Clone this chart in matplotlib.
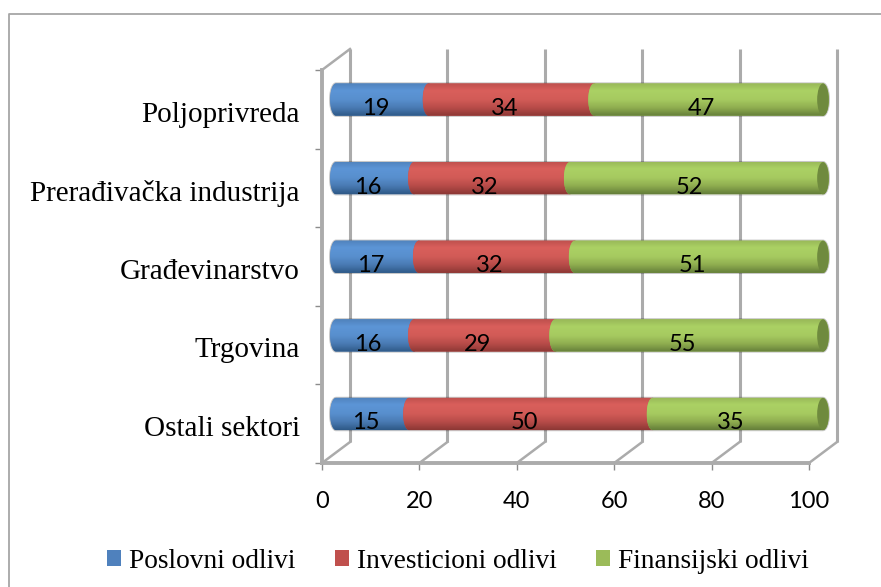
import matplotlib
matplotlib.use('Agg')
import matplotlib.pyplot as plt
import matplotlib.patches as patches
from matplotlib.lines import Line2D
from matplotlib.path import Path
import numpy as np

categories = ['Ostali sektori', 'Trgovina', 'Građevinarstvo', 'Prerađivačka industrija', 'Poljoprivreda']
poslovni = [15, 16, 17, 16, 19]
investicioni = [50, 29, 32, 32, 34]
finansijski = [35, 55, 51, 52, 47]
series_names = ['Poslovni odlivi', 'Investicioni odlivi', 'Finansijski odlivi']
series_colors = ['#4F81BD', '#C0504D', '#9BBB59']
xticks = [0, 20, 40, 60, 80, 100]

# gradient stops top -> bottom
shades = {
    '#4F81BD': ['#5082BC', '#5C95D6', '#588FCE', '#4A7BB4', '#2F5A88'],
    '#C0504D': ['#BE504D', '#D95F5B', '#D25B57', '#B84C49', '#8E3835'],
    '#9BBB59': ['#98B858', '#ABD164', '#A6CA60', '#90AE50', '#66803A'],
}

W, H = 881, 587
DX, DY = 5.75, 0.267   # depth of the 3d box in data units
CAP = 1.2              # half width of the bar end ellipse
BAR_H = 0.41
GRID = '#ABABAB'

fig = plt.figure(figsize=(W / 100, H / 100), dpi=100)
ax = fig.add_axes([322 / W, 1 - 463 / H, 487 / W, 393 / H])
ax.patch.set_alpha(0)


def lerp_img(color):
    rgb = np.array([matplotlib.colors.to_rgb(c) for c in shades[color]])
    t = np.linspace(0, 1, 40)
    stops = np.array([0, 0.22, 0.5, 0.75, 1])
    img = np.stack([np.interp(t, stops, rgb[:, k]) for k in range(3)], axis=1)
    return img[:, None, :]


def cylinder(x0, x1, yc):
    a = np.linspace(-np.pi / 2, np.pi / 2, 30)
    right = np.c_[x1 + CAP * np.cos(a), yc + BAR_H / 2 * np.sin(a)]
    left = np.c_[x0 - CAP * np.cos(a[::-1]), yc + BAR_H / 2 * np.sin(a[::-1])]
    return np.r_[right, left, right[:1]]


# back wall and floor
for v in xticks:
    ax.plot([v + DX, v + DX], [DY, 5 + DY], color=GRID, lw=2.2, clip_on=False, zorder=1, solid_capstyle='butt')
    ax.plot([v, v + DX], [0, DY], color=GRID, lw=1.8, clip_on=False, zorder=1)
ax.plot([0, DX], [5, 5 + DY], color=GRID, lw=1.8, clip_on=False, zorder=1)

# stacked bars
values = [poslovni, investicioni, finansijski]
for i in range(len(categories)):
    yc = i + 0.5 + DY / 2 - 0.01
    total = sum(values[s][i] for s in range(3))
    # soft outline under the whole bar
    ax.add_patch(patches.PathPatch(Path(cylinder(DX / 2, total + DX / 2, yc)), facecolor='none',
                                   edgecolor='#00000038', lw=1.6, clip_on=False, zorder=2))
    left = 0
    for s, color in enumerate(series_colors):
        v = values[s][i]
        x0, x1 = left + DX / 2, left + v + DX / 2
        shape = patches.PathPatch(Path(cylinder(x0, x1, yc)), facecolor=color, edgecolor='none',
                                  clip_on=False, zorder=3 + s * 0.1)
        ax.add_patch(shape)
        im = ax.imshow(lerp_img(color), extent=[x0 - CAP, x1 + CAP, yc - BAR_H / 2, yc + BAR_H / 2],
                       aspect='auto', interpolation='bilinear', zorder=3 + s * 0.1 + 0.01)
        im.set_clip_path(shape)
        im.set_clip_box(fig.bbox)
        left += v
    # end cap
    ax.add_patch(patches.Ellipse((left + DX / 2, yc), 2 * CAP, BAR_H, facecolor='#6F8A3E',
                                 edgecolor='none', clip_on=False, zorder=3.5))
    # data labels
    left = 0
    for s in range(3):
        v = values[s][i]
        ax.text(left + v / 2 + 1.5, i + 0.51, str(v), ha='center', va='center', fontsize=17,
                family='Lato', color='black', zorder=5)
        left += v

ax.set_xlim(0, 100)
ax.set_ylim(0, 5)
ax.set_xticks(xticks)
ax.set_xticklabels([str(v) for v in xticks], family='Lato', fontsize=17)
ax.set_yticks(np.arange(5) + 0.47)
ax.set_yticklabels(categories, family='Liberation Serif', fontsize=21)
ax.set_yticks(np.arange(6), minor=True)
ax.tick_params(axis='y', which='major', length=0, pad=16)
ax.tick_params(axis='y', which='minor', length=5, width=1, color='#8C8C8C')
ax.tick_params(axis='x', length=5, width=1, color='#8C8C8C', pad=15)
for side in ['top', 'right']:
    ax.spines[side].set_visible(False)
for side in ['left', 'bottom']:
    ax.spines[side].set_color(GRID)
    ax.spines[side].set_linewidth(2.8)

# outer chart border, only left and top are in the picture
fig.add_artist(Line2D([9 / W, 9 / W, 1], [0, 1 - 13.5 / H, 1 - 13.5 / H], color='#A6A6A6', lw=1.3))

handles = [patches.Patch(facecolor=c, edgecolor='none') for c in series_colors]
fig.legend(handles, series_names, loc='center', bbox_to_anchor=(458 / W, 1 - 561 / H), ncol=3, frameon=False,
           prop={'family': 'Liberation Serif', 'size': 19.7}, handlelength=0.5, handleheight=0.5,
           handletextpad=0.3, columnspacing=1.45, borderpad=0, borderaxespad=0)

fig.savefig('out.png', dpi=100)
